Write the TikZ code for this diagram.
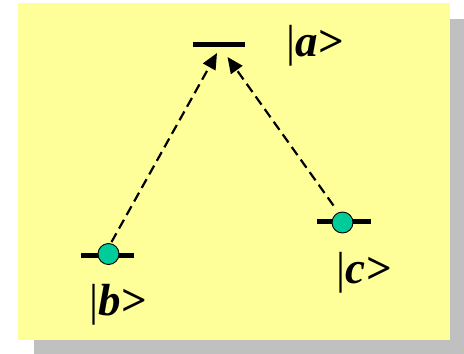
\documentclass[tikz,border=0pt]{standalone}
\usepackage{fontspec}
\setmainfont{Liberation Serif}
\usetikzlibrary{arrows.meta}
\definecolor{bgyellow}{HTML}{FFFF99}
\definecolor{shadowgray}{HTML}{C0C0C0}
\definecolor{dotgreen}{HTML}{00CC99}
\newcommand{\kbar}{{\fontseries{m}\upshape|}}
\tikzset{
  level/.style={line width=4.5pt},
  atom/.style={circle, draw=black, line width=0.9pt, fill=dotgreen, minimum size=21pt, inner sep=0pt},
  ket/.style={anchor=base west, inner sep=0pt, font=\fontsize{45}{45}\selectfont\bfseries\itshape},
  trans/.style={dash pattern=on 10pt off 5.5pt, line width=2.2pt, -{Triangle[length=16pt,width=14pt]}}
}
\begin{document}
\begin{tikzpicture}[x=1pt,y=-1pt]
\useasboundingbox (0,0) rectangle (464,354);
\fill[shadowgray] (34,19) rectangle (464,354);
\fill[bgyellow] (18,3) rectangle (450,340);
% levels
\coordinate (a1) at (193,44.5);
\coordinate (a2) at (245,44.5);
\draw[level] (a1) -- (a2);
\coordinate (b1) at (81,255.5);
\coordinate (b2) at (134,255.5);
\draw[level] (b1) -- (b2);
\coordinate (c1) at (317,221.5);
\coordinate (c2) at (371,221.5);
\draw[level] (c1) -- (c2);
\node[atom] (bdot) at (108.5,254) {};
\node[atom] (cdot) at (342.5,222.5) {};
% arrow tips
\coordinate (ta) at (217,53);
\coordinate (tc) at (227.5,57);
\draw[trans] (bdot.north) ++(3,-1) coordinate (bs) -- (ta);
\draw[trans] (cdot.north) ++(-9,-6) coordinate (cs) -- (tc);
% labels
\node[ket] (ka) at (286,56) {\kbar a>};
\node[ket] (kb) at (89,315) {\kbar b>};
\node[ket] (kc) at (336,283) {\kbar c>};
\end{tikzpicture}
\end{document}
